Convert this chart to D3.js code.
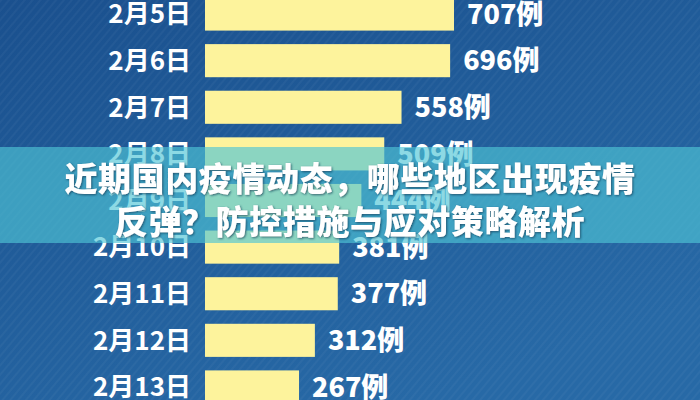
<!DOCTYPE html>
<html>
<head>
<meta charset="utf-8">
<script src="https://cdn.jsdelivr.net/npm/d3@7/dist/d3.min.js"></script>
<style>
html,body{margin:0;padding:0;background:#1f5b97;}
svg{display:block;}
</style>
</head>
<body>
<svg id="chart" width="700" height="400"></svg>
<script>
const dates = ["2月5日","2月6日","2月7日","2月8日","2月9日","2月10日","2月11日","2月12日","2月13日"];
const values = [707, 696, 558, 509, 444, 381, 377, 312, 267];
const unit = "例";
const titleLines = ["近期国内疫情动态，哪些地区出现疫情", "反弹？防控措施与应对策略解析"];

const W = 700, H = 400;
const svg = d3.select("#chart");
const defs = svg.append("defs");

const grad = defs.append("linearGradient").attr("id","bg").attr("x1","0").attr("y1","0").attr("x2","0.6").attr("y2","1");
grad.append("stop").attr("offset","0").attr("stop-color","#1a508e");
grad.append("stop").attr("offset","1").attr("stop-color","#2769a6");

const pat = defs.append("pattern").attr("id","stripes").attr("width",6).attr("height",6)
  .attr("patternUnits","userSpaceOnUse").attr("patternTransform","rotate(40)");
pat.append("rect").attr("width",2).attr("height",6).attr("fill","rgba(255,255,255,0.035)");

svg.append("rect").attr("width",W).attr("height",H).attr("fill","url(#bg)");
svg.append("rect").attr("width",W).attr("height",H).attr("fill","url(#stripes)");

const x0 = 205;
const x = d3.scaleLinear().domain([0, 707]).range([x0, 454]);
const y = d3.scaleBand().domain(dates).range([-2.5, 403.5]).paddingInner(0.29).paddingOuter(0);

const rows = svg.append("g").selectAll("g").data(dates).join("g");

rows.append("rect")
  .attr("x", x0)
  .attr("y", d => y(d))
  .attr("height", y.bandwidth())
  .attr("width", (d,i) => x(values[i]) - x0)
  .attr("fill", "#fdf39c");

rows.append("text")
  .attr("x", 191)
  .attr("y", d => y(d) + y.bandwidth()/2)
  .attr("dy", "0.36em")
  .attr("text-anchor", "end")
  .attr("fill", "#ffffff")
  .attr("font-family", "'Noto Sans CJK SC', 'Noto Sans', sans-serif")
  .attr("font-weight", "700")
  .attr("font-size", 26)
  .text(d => d);

rows.append("text")
  .attr("x", (d,i) => x(values[i]) + 13)
  .attr("y", d => y(d) + y.bandwidth()/2)
  .attr("dy", "0.36em")
  .attr("fill", "#ffffff")
  .attr("font-family", "'Noto Sans CJK SC', 'Noto Sans', sans-serif")
  .attr("font-weight", "900")
  .attr("font-size", 27)
  .text((d,i) => values[i] + unit);

// overlay banner
svg.append("rect").attr("x",0).attr("y",147).attr("width",W).attr("height",96)
  .attr("fill","rgb(78,196,214)").attr("fill-opacity",0.65);

const shadow = defs.append("filter").attr("id","sh").attr("x","-10%").attr("y","-30%").attr("width","120%").attr("height","160%");
shadow.append("feDropShadow").attr("dx",1).attr("dy",1).attr("stdDeviation",1.2).attr("flood-color","#0a3550").attr("flood-opacity",0.7);

svg.append("g").attr("filter","url(#sh)").selectAll("text").data(titleLines).join("text")
  .attr("x", W/2)
  .attr("y", (d,i) => [179, 222][i])
  .attr("dy", "0.36em")
  .attr("text-anchor", "middle")
  .attr("fill", "#ffffff")
  .attr("font-family", "'Noto Sans CJK SC', sans-serif")
  .attr("font-weight", "900")
  .attr("font-size", 33)
  .attr("letter-spacing", 0.6)
  .text(d => d);
</script>
</body>
</html>
